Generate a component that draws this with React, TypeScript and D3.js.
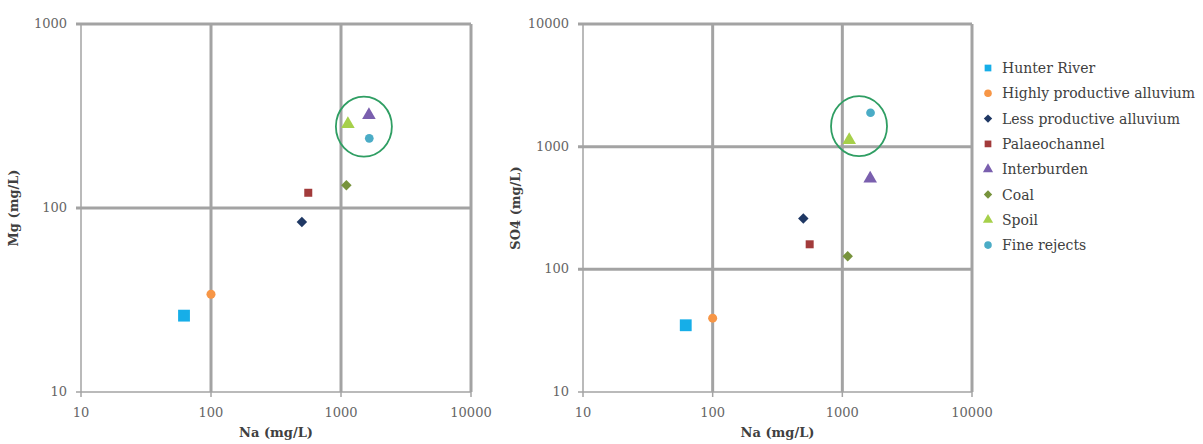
import React from "react";
import * as d3 from "d3";

const series = [
  "Hunter River",
  "Highly productive alluvium",
  "Less productive alluvium",
  "Palaeochannel",
  "Interburden",
  "Coal",
  "Spoil",
  "Fine rejects",
];
const colors = ["#16aee8", "#f79646", "#1f3864", "#a23b3b", "#7a5fae", "#77933c", "#a6d04a", "#4bacc6"];
const shapes = ["square", "circle", "diamond", "square", "triangle", "diamond", "triangle", "circle"];
const sizes = [140, 64, 70, 64, 80, 70, 80, 60];

const naValues = [62, 100, 500, 560, 1640, 1100, 1130, 1650];
const mgValues = [26, 34, 84, 121, 320, 133, 286, 239];
const so4Values = [35, 40, 260, 160, 550, 128, 1130, 1890];

const xTicks = [10, 100, 1000, 10000];
const mgTicks = [10, 100, 1000];
const so4Ticks = [10, 100, 1000, 10000];

const mgCircle = { na: 1500, v: 277 };
const so4Circle = { na: 1345, v: 1470 };

const symbolFor = (s: string) =>
  s === "square" ? d3.symbolSquare : s === "circle" ? d3.symbolCircle : s === "diamond" ? d3.symbolDiamond2 : d3.symbolTriangle;

const FONT = "'DejaVu Serif', 'Liberation Serif', serif";
const GRID = "#a3a3a3";

function Panel({ left, right, top, bottom, yTicks, yDomain, yValues, yTitle, circle }: any) {
  const x = d3.scaleLog().domain([10, 10000]).range([left, right]);
  const y = d3.scaleLog().domain(yDomain).range([bottom, top]);
  const cx = x(circle.na);
  const cy = y(circle.v);
  return (
    <g>
      {xTicks.map((t) => (
        <line key={"gx" + t} x1={x(t)} x2={x(t)} y1={top} y2={bottom} stroke={GRID} strokeWidth={t === 10 ? 1.5 : 3} />
      ))}
      {yTicks.map((t: number) => (
        <line key={"gy" + t} x1={left - 5} x2={right} y1={y(t)} y2={y(t)} stroke={GRID} strokeWidth={t === yDomain[0] ? 1.5 : 3} />
      ))}
      {xTicks.map((t) => (
        <line key={"tx" + t} x1={x(t)} x2={x(t)} y1={bottom} y2={bottom + 5} stroke={GRID} strokeWidth={1.5} />
      ))}
      {xTicks.map((t) => (
        <text key={"lx" + t} x={x(t)} y={bottom + 25} textAnchor="middle" fontFamily={FONT} fontSize={13} fill="#666">
          {t}
        </text>
      ))}
      {yTicks.map((t: number) => (
        <text key={"ly" + t} x={left - 14} y={y(t) + 4} textAnchor="end" fontFamily={FONT} fontSize={13} fill="#666">
          {t}
        </text>
      ))}
      <text x={(left + right) / 2} y={bottom + 45} textAnchor="middle" fontFamily={FONT} fontSize={13} fontWeight="bold" fill="#404040">
        Na (mg/L)
      </text>
      <text
        transform={`translate(${left - 63},${(top + bottom) / 2}) rotate(-90)`}
        textAnchor="middle"
        fontFamily={FONT}
        fontSize={13}
        fontWeight="bold"
        fill="#404040"
      >
        {yTitle}
      </text>
      {series.map((s, i) => (
        <path
          key={s}
          d={d3.symbol(symbolFor(shapes[i]), sizes[i])() as string}
          transform={`translate(${x(naValues[i])},${y(yValues[i])})`}
          fill={colors[i]}
        />
      ))}
      <ellipse cx={cx} cy={cy} rx={28} ry={30} fill="none" stroke="#2f9e63" strokeWidth={1.8} />
    </g>
  );
}

export default function App() {
  return (
    <svg width={1203} height={444} style={{ display: "block", position: "absolute", left: 0, top: 0 }}>
      <rect width={1203} height={444} fill="#fff" />
      <Panel left={81} right={471} top={24} bottom={392} yTicks={mgTicks} yDomain={[10, 1000]} yValues={mgValues} yTitle="Mg (mg/L)" circle={mgCircle} />
      <Panel left={583} right={972} top={24} bottom={392} yTicks={so4Ticks} yDomain={[10, 10000]} yValues={so4Values} yTitle="SO4 (mg/L)" circle={so4Circle} />
      {series.map((s, i) => (
        <g key={s} transform={`translate(0,${68 + i * 25.3})`}>
          <path d={d3.symbol(symbolFor(shapes[i]), 45)() as string} transform="translate(988,0)" fill={colors[i]} />
          <text x={1002} y={5} fontFamily={FONT} fontSize={14} fill="#404040">
            {s}
          </text>
        </g>
      ))}
    </svg>
  );
}
